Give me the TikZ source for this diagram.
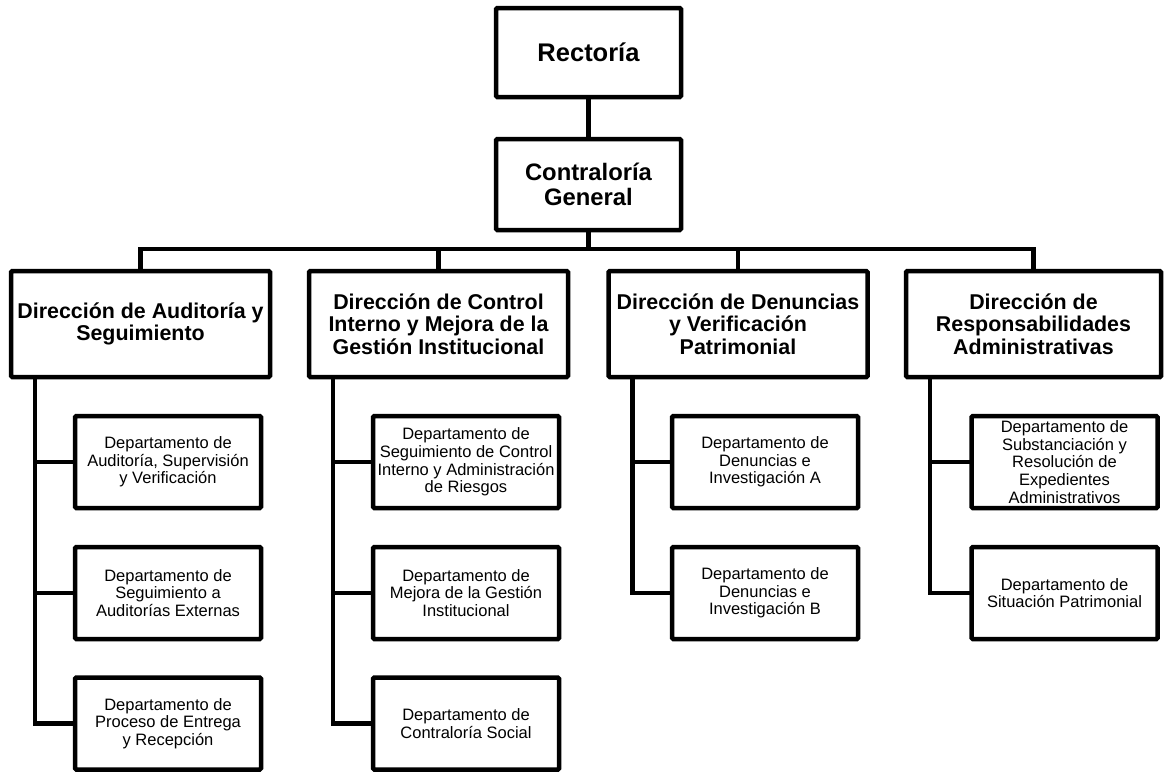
\documentclass[tikz,border=0pt]{standalone}
\usepackage{fontspec}
\setmainfont{Liberation Sans}
\begin{document}
\begin{tikzpicture}[x=1pt,y=-1pt,
  every path/.style={line width=4.5pt},
  box/.style={draw=black, line width=4.5pt, rounded corners=1.2pt, rectangle, fill=white, align=center, inner sep=0pt},
  topbox/.style={box, minimum width=185pt},
  dirbox/.style={box, minimum width=259pt, minimum height=106pt, font=\fontsize{21.4}{22.5}\selectfont\bfseries},
  deptbox/.style={box, minimum width=186pt, minimum height=92pt, font=\fontsize{16.5}{17.6}\selectfont},
  conn/.style={draw=black, line width=4.5pt, line cap=rect}
]
\useasboundingbox (0,0) rectangle (1164,774);
\fill[white] (0,0) rectangle (1164,774);

% top
\node[topbox, minimum height=89pt, font=\fontsize{25.5}{27}\selectfont\bfseries] (rec) at (588.5,52.5) {Rectoría};
\node[topbox, minimum height=91pt, font=\fontsize{23.8}{25.5}\selectfont\bfseries] (cg) at (588.5,184.5) {Contraloría\\General};

% directions
\node[dirbox] (d1) at (140.5,324) {Dirección de Auditoría y\\Seguimiento};
\node[dirbox] (d2) at (438.5,324) {Dirección de Control\\Interno y Mejora de la\\Gestión Institucional};
\node[dirbox] (d3) at (738,324) {Dirección de Denuncias\\y Verificación\\Patrimonial};
\node[dirbox, minimum width=255pt] (d4) at (1033.5,324) {Dirección de\\Responsabilidades\\Administrativas};

% departments
\node[deptbox] (p11) at (168,462) {Departamento de\\Auditoría, Supervisión\\y Verificación};
\node[deptbox] (p12) at (168,593) {Departamento de\\Seguimiento a\\Auditorías Externas};
\node[deptbox] (p13) at (168,723.5) {Departamento de\\Proceso de Entrega\\y Recepción};

\node[deptbox] (p21) at (466,462) {Departamento de\\Seguimiento de Control\\Interno y Administración\\de Riesgos};
\node[deptbox] (p22) at (466,593) {Departamento de\\Mejora de la Gestión\\Institucional};
\node[deptbox] (p23) at (466,723.5) {Departamento de\\Contraloría Social};

\node[deptbox] (p31) at (765,462) {Departamento de\\Denuncias e\\Investigación A};
\node[deptbox] (p32) at (765,593) {Departamento de\\Denuncias e\\Investigación B};

\node[deptbox] (p41) at (1064.5,462) {Departamento de\\Substanciación y\\Resolución de\\Expedientes\\Administrativos};
\node[deptbox] (p42) at (1064.5,593) {Departamento de\\Situación Patrimonial};

% connectors top
\coordinate (bus) at (588.5,249);
\draw[conn] (rec.south) -- (cg.north);
\draw[conn] (cg.south) -- (bus);
\draw[conn] (d1.north) |- (bus) -| (d4.north);
\draw[conn] (d2.north) -- (d2.north |- bus);
\draw[conn] (d3.north) -- (d3.north |- bus);

% branch lines
\coordinate (s1) at ([xshift=26pt]d1.south west);
\coordinate (s2) at ([xshift=26pt]d2.south west);
\coordinate (s3) at ([xshift=26pt]d3.south west);
\coordinate (s4) at ([xshift=26pt]d4.south west);

\draw[conn] (s1) |- (p13.west);
\draw[conn] (s1 |- p11.west) -- (p11.west);
\draw[conn] (s1 |- p12.west) -- (p12.west);

\draw[conn] (s2) |- (p23.west);
\draw[conn] (s2 |- p21.west) -- (p21.west);
\draw[conn] (s2 |- p22.west) -- (p22.west);

\draw[conn] (s3) |- (p32.west);
\draw[conn] (s3 |- p31.west) -- (p31.west);

\draw[conn] (s4) |- (p42.west);
\draw[conn] (s4 |- p41.west) -- (p41.west);

% redraw boxes on top of connector ends
\end{tikzpicture}
\end{document}
